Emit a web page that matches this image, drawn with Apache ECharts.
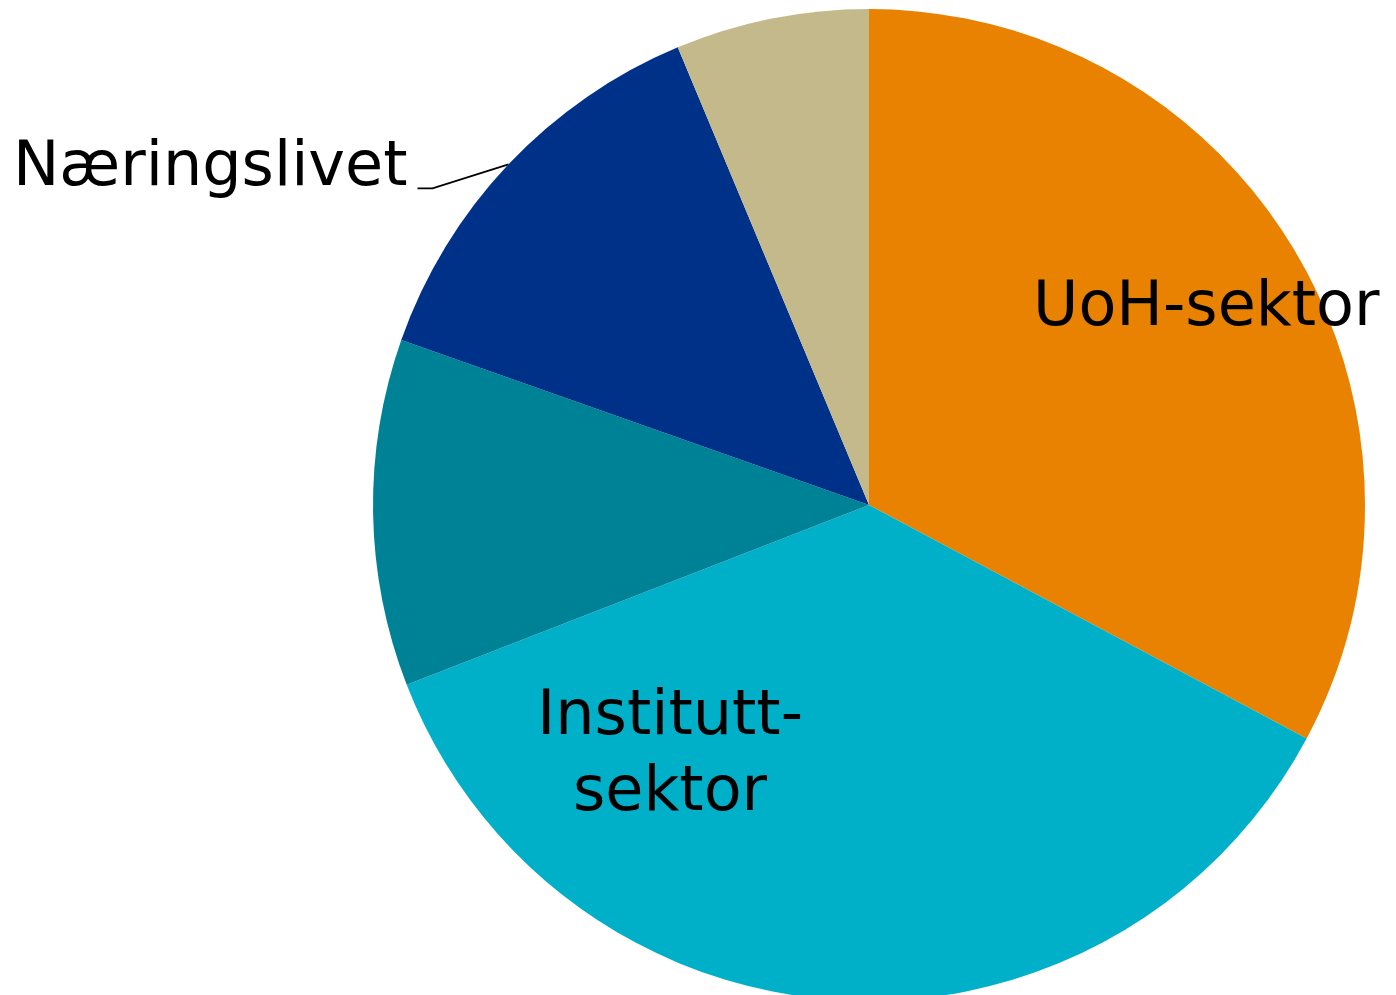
<!DOCTYPE html>
<html>
<head>
<meta charset="UTF-8">
<title>Sektorfordeling</title>
<script src="https://cdn.jsdelivr.net/npm/echarts@6/dist/echarts.min.js"></script>
<style>
  html, body { margin: 0; padding: 0; background: #fff; }
  #main { width: 1396px; height: 995px; }
</style>
</head>
<body>
<div id="main"></div>
<script type="text/javascript">
    // andeler i prosent, lest av figuren (med klokka fra toppen)
    var sektorer = ['UoH-sektor', 'Institutt-\nsektor', 'Øvrige', 'Næringslivet', 'Annet'];
    var andeler = [32.8, 36.3, 11.3, 13.3, 6.3];
    var farger = ['#e88200', '#00afc8', '#008296', '#003189', '#c4b98a'];
    var visEtikett = [true, true, false, true, false];

    // flytting av etikettene (px) i forhold til standardplassering
    var flytt = [[122, -67], [-184, 0], [0, 0], [-4, 5], [0, 0]];
    var knekk = 24; // hvor mye den ytre delen av etikettlinja senkes

    var chart = echarts.init(document.getElementById('main'));

    var data = sektorer.map(function (navn, i) {
        var inni = i !== 3;
        return {
            name: navn,
            value: andeler[i],
            itemStyle: { color: farger[i] },
            label: {
                show: visEtikett[i],
                position: inni ? 'inside' : 'outside',
                alignTo: 'none'
            },
            labelLine: {
                show: visEtikett[i] && !inni,
                length: 0,
                length2: 91,
                lineStyle: { color: '#000', width: 1.8 }
            }
        };
    });

    var option = {
        animation: false,
        series: [
            {
                type: 'pie',
                center: [869, 505],
                radius: 496,
                startAngle: 90,
                clockwise: true,
                avoidLabelOverlap: false,
                label: {
                    color: '#000',
                    fontFamily: 'DejaVu Sans',
                    fontSize: 62,
                    lineHeight: 76,
                    align: 'center',
                    distanceToLabelLine: 6
                },
                emphasis: { disabled: true },
                labelLayout: function (p) {
                    var d = flytt[p.dataIndex];
                    var res = { dx: d[0], dy: d[1] };
                    var pts = p.labelLinePoints;
                    if (pts && pts.length === 3) {
                        var a = pts[0], c = pts[2];
                        res.labelLinePoints = [
                            [a[0], a[1]],
                            [c[0] + 15, c[1] + knekk],
                            [c[0], c[1] + knekk]
                        ];
                    }
                    return res;
                },
                data: data
            }
        ]
    };

    chart.setOption(option);
</script>
</body>
</html>
